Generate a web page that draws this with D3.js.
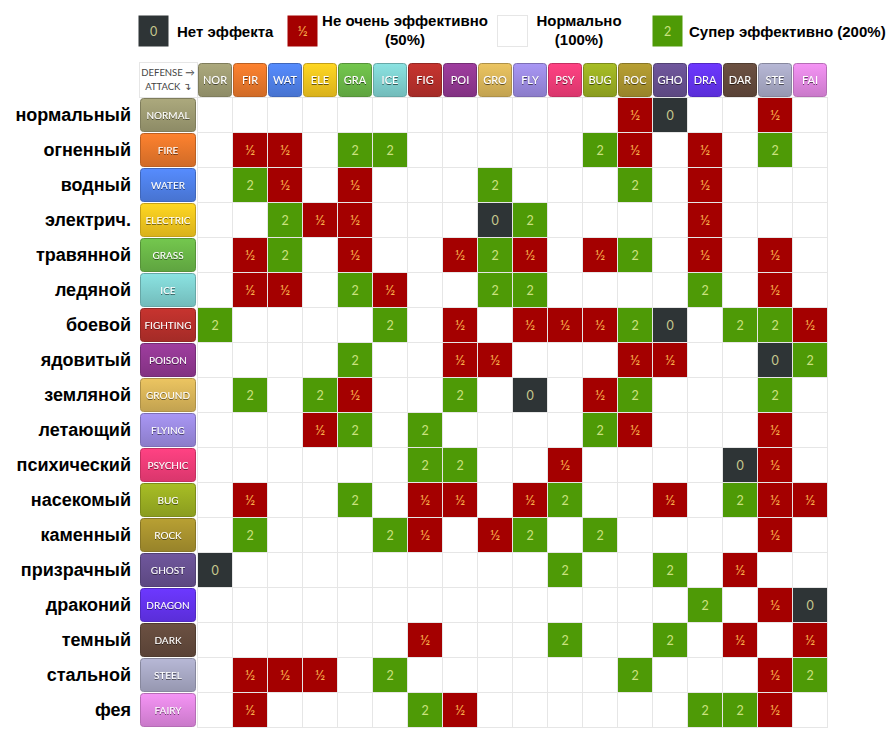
<!DOCTYPE html>
<html><head><meta charset="utf-8">
<script src="https://cdn.jsdelivr.net/npm/d3@7"></script>
<style>
html,body{margin:0;padding:0;background:#fff;}
svg{display:block;}
</style></head>
<body>
<svg id="chart" width="892" height="729"></svg>
<script>
// ---- data ----
const typeNames = ["NORMAL","FIRE","WATER","ELECTRIC","GRASS","ICE","FIGHTING","POISON","GROUND","FLYING","PSYCHIC","BUG","ROCK","GHOST","DRAGON","DARK","STEEL","FAIRY"];
const typeAbbr = ["NOR","FIR","WAT","ELE","GRA","ICE","FIG","POI","GRO","FLY","PSY","BUG","ROC","GHO","DRA","DAR","STE","FAI"];
const russianNames = ["нормальный","огненный","водный","электрич.","травянной","ледяной","боевой","ядовитый","земляной","летающий","психический","насекомый","каменный","призрачный","драконий","темный","стальной","фея"];
const typeColors = ["#9d9b72","#e8772b","#4f80e8","#f1c51f","#6ab647","#7fd0cf","#b6302b","#913891","#d8b459","#9b8ae0","#f13c78","#9aae22","#a8922f","#665090","#6433f0","#634a3c","#a7a8c4","#e087e0"];
// effectiveness rows: attack type -> list over defending types (1 = normal)
const eNormal   = [1,1,1,1,1,1,1,1,1,1,1,1,0.5,0,1,1,0.5,1];
const eFire     = [1,0.5,0.5,1,2,2,1,1,1,1,1,2,0.5,1,0.5,1,2,1];
const eWater    = [1,2,0.5,1,0.5,1,1,1,2,1,1,1,2,1,0.5,1,1,1];
const eElectric = [1,1,2,0.5,0.5,1,1,1,0,2,1,1,1,1,0.5,1,1,1];
const eGrass    = [1,0.5,2,1,0.5,1,1,0.5,2,0.5,1,0.5,2,1,0.5,1,0.5,1];
const eIce      = [1,0.5,0.5,1,2,0.5,1,1,2,2,1,1,1,1,2,1,0.5,1];
const eFighting = [2,1,1,1,1,2,1,0.5,1,0.5,0.5,0.5,2,0,1,2,2,0.5];
const ePoison   = [1,1,1,1,2,1,1,0.5,0.5,1,1,1,0.5,0.5,1,1,0,2];
const eGround   = [1,2,1,2,0.5,1,1,2,1,0,1,0.5,2,1,1,1,2,1];
const eFlying   = [1,1,1,0.5,2,1,2,1,1,1,1,2,0.5,1,1,1,0.5,1];
const ePsychic  = [1,1,1,1,1,1,2,2,1,1,0.5,1,1,1,1,0,0.5,1];
const eBug      = [1,0.5,1,1,2,1,0.5,0.5,1,0.5,2,1,1,0.5,1,2,0.5,0.5];
const eRock     = [1,2,1,1,1,2,0.5,1,0.5,2,1,2,1,1,1,1,0.5,1];
const eGhost    = [0,1,1,1,1,1,1,1,1,1,2,1,1,2,1,0.5,1,1];
const eDragon   = [1,1,1,1,1,1,1,1,1,1,1,1,1,1,2,1,0.5,0];
const eDark     = [1,1,1,1,1,1,0.5,1,1,1,2,1,1,2,1,0.5,1,0.5];
const eSteel    = [1,0.5,0.5,0.5,1,2,1,1,1,1,1,1,2,1,1,1,0.5,2];
const eFairy    = [1,0.5,1,1,1,1,2,0.5,1,1,1,1,1,1,2,2,0.5,1];
const effectiveness = [eNormal,eFire,eWater,eElectric,eGrass,eIce,eFighting,ePoison,eGround,eFlying,ePsychic,eBug,eRock,eGhost,eDragon,eDark,eSteel,eFairy];
const legendItems = [
  {v:0, lines:["Нет эффекта"]},
  {v:0.5, lines:["Не очень эффективно","(50%)"]},
  {v:1, lines:["Нормально","(100%)"]},
  {v:2, lines:["Супер эффективно (200%)"]}
];

// ---- styles ----
const fxFill = {0:"#2e3436", 0.5:"#a40000", 2:"#4e9a06"};
const fxText = {0:"#c7c98e", 0.5:"#f9b24c", 2:"#cbe27f"};
const fxLabel = v => v===0?"0":v===0.5?"½":v===2?"2":"";
const fxSize = v => v===0.5 ? 14 : 12.5;

const svg = d3.select("#chart");
const defs = svg.append("defs");

const x = d3.scaleBand().domain(d3.range(18)).range([197,827]);
const y = d3.scaleBand().domain(d3.range(18)).range([97,727]);
const cornerX = 139;

// gradients for badges
typeColors.forEach((c,i)=>{
  const g = defs.append("linearGradient").attr("id","g"+i).attr("x1",0).attr("x2",0).attr("y1",0).attr("y2",1);
  g.append("stop").attr("offset","0%").attr("stop-color",d3.color(c).brighter(0.25));
  g.append("stop").attr("offset","100%").attr("stop-color",d3.color(c).darker(0.3));
});
const flt = defs.append("filter").attr("id","ts").attr("x","-20%").attr("y","-20%").attr("width","140%").attr("height","140%");
flt.append("feDropShadow").attr("dx",0).attr("dy",1).attr("stdDeviation",0.6).attr("flood-color","#000").attr("flood-opacity",0.55);

// grid cells
const grid = svg.append("g");
effectiveness.forEach((row,r)=>{
  row.forEach((v,c)=>{
    grid.append("rect").attr("x",x(c)+0.5).attr("y",y(r)+0.5)
      .attr("width",x.bandwidth()).attr("height",y.bandwidth())
      .attr("fill","#fff").attr("stroke","#e6e6e6").attr("stroke-width",1);
  });
});
// corner cell
grid.append("rect").attr("x",cornerX+0.5).attr("y",62.5).attr("width",197-cornerX).attr("height",35)
  .attr("fill","#fff").attr("stroke","#e6e6e6");
grid.append("text").attr("x",168).attr("y",76).attr("text-anchor","middle")
  .attr("font-family","Lato, sans-serif").attr("font-size",9.5).attr("fill","#444").text("DEFENSE →");
grid.append("text").attr("x",168).attr("y",90).attr("text-anchor","middle")
  .attr("font-family","Lato, sans-serif").attr("font-size",9.5).attr("fill","#444").text("ATTACK ↴");

// header badges
const hdr = svg.append("g");
typeAbbr.forEach((t,i)=>{
  hdr.append("rect").attr("x",x(i)+1.5).attr("y",63.5).attr("width",x.bandwidth()-2).attr("height",33)
    .attr("rx",3).attr("fill","url(#g"+i+")").attr("stroke",d3.color(typeColors[i]).darker(0.6));
  hdr.append("text").attr("x",x(i)+x.bandwidth()/2+0.5).attr("y",84).attr("text-anchor","middle")
    .attr("font-family","Lato, sans-serif").attr("font-size",11).attr("fill","#fff")
    .attr("filter","url(#ts)").text(t);
});

// row badges and labels
const rows = svg.append("g");
typeNames.forEach((t,i)=>{
  rows.append("rect").attr("x",140.5).attr("y",y(i)+1.5).attr("width",55).attr("height",y.bandwidth()-2)
    .attr("rx",3).attr("fill","url(#g"+i+")").attr("stroke",d3.color(typeColors[i]).darker(0.6));
  rows.append("text").attr("x",168).attr("y",y(i)+y.bandwidth()/2+4).attr("text-anchor","middle")
    .attr("font-family","Lato, sans-serif").attr("font-size",10).attr("fill","#fff")
    .attr("filter","url(#ts)").text(t);
  rows.append("text").attr("x",131).attr("y",y(i)+y.bandwidth()/2+6).attr("text-anchor","end")
    .attr("font-family","'Liberation Sans', Arial, sans-serif").attr("font-weight","bold").attr("font-size",18)
    .attr("fill","#000").text(russianNames[i]);
});

// effect cells
const cells = svg.append("g");
effectiveness.forEach((row,r)=>{
  row.forEach((v,c)=>{
    if(v===1) return;
    cells.append("rect").attr("x",x(c)+1).attr("y",y(r)+1).attr("width",x.bandwidth()-1).attr("height",y.bandwidth()-1)
      .attr("fill",fxFill[v]);
    cells.append("text").attr("x",x(c)+x.bandwidth()/2+0.5).attr("y",y(r)+y.bandwidth()/2+5)
      .attr("text-anchor","middle").attr("font-family","Lato, sans-serif").attr("font-size",fxSize(v))
      .attr("fill",fxText[v]).text(fxLabel(v));
  });
});

// legend
const legend = svg.append("g");
const legBoxX = [138,287,497,652];
const legTextX = [177,405,579,689];
const legAnchor = ["start","middle","middle","start"];
legendItems.forEach((d,i)=>{
  legend.append("rect").attr("x",legBoxX[i]+0.5).attr("y",15.5).attr("width",30).attr("height",31)
    .attr("fill",d.v===1?"#fff":fxFill[d.v]).attr("stroke",d.v===1?"#e6e6e6":"none");
  if(d.v!==1){
    legend.append("text").attr("x",legBoxX[i]+15.5).attr("y",36).attr("text-anchor","middle")
      .attr("font-family","Lato, sans-serif").attr("font-size",fxSize(d.v)).attr("fill",fxText[d.v]).text(fxLabel(d.v));
  }
  const ys = d.lines.length===1 ? [37] : [26,45];
  d.lines.forEach((l,k)=>{
    legend.append("text").attr("x",legTextX[i]).attr("y",ys[k]).attr("text-anchor",legAnchor[i])
      .attr("font-family","'Liberation Sans', Arial, sans-serif").attr("font-weight","bold").attr("font-size",15)
      .attr("fill","#000").text(l);
  });
});
</script>
</body></html>
